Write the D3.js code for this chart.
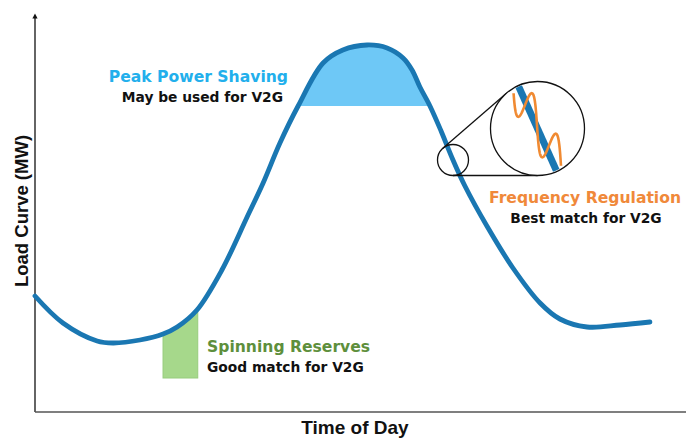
<!DOCTYPE html>
<html>
<head>
<meta charset="utf-8">
<script src="https://cdn.jsdelivr.net/npm/d3@7"></script>
<style>
  body { margin: 0; background: #fff; }
  svg { display: block; }
  text { font-weight: 700; }
  .note { font-family: "DejaVu Sans", "Open Sans", sans-serif; }
  .axis-title { font-family: "Liberation Sans", Arial, sans-serif; }
</style>
</head>
<body>
<div id="chart"></div>
<script>
// load curve over one day (hours, arbitrary MW units)
const hours = [0, 1.03, 2.29, 2.88, 3.87, 4.72, 5.24, 5.97, 6.89, 7.82, 8.41, 9.03, 9.70, 10.62,
  11.35, 12.24, 12.98, 13.57, 13.9, 14.19, 14.56, 14.97, 15.41, 15.85, 16.66, 17.62, 18.62,
  19.35, 20.35, 21.57, 22.67];
const load = [29, 22.25, 17.75, 17.25, 18, 19.5, 21.25, 25.5, 35.5, 48.75, 57.25, 67.25, 76.5, 87.25,
  90.5, 91.75, 91, 88.5, 85.5, 81.25, 76.5, 70.25, 63, 56.5, 46.5, 36, 27.25,
  23.25, 21.25, 21.75, 22.5];

// annotated zones
const peakShaveLevel = 76.5;          // load above this is shaved
const reserveHours = [4.72, 6.0];     // spinning reserves window
const reserveFloor = 8.5;
const regulationHour = 15.41;         // magnified point

const labels = {
  peak: ["Peak Power Shaving", "May be used for V2G"],
  reserve: ["Spinning Reserves", "Good match for V2G"],
  regulation: ["Frequency Regulation", "Best match for V2G"]
};

const width = 686, height = 438;
const margin = {top: 12, right: 0, bottom: 26, left: 35};

const svg = d3.select("#chart").append("svg")
  .attr("width", width)
  .attr("height", height);

const x = d3.scaleLinear().domain([0, 24]).range([margin.left, width - margin.right]);
const y = d3.scaleLinear().domain([0, 100]).range([height - margin.bottom, margin.top]);

const curve = d3.curveCatmullRom.alpha(0.5);
const pts = hours.map((h, i) => [h, load[i]]);

const line = d3.line().x(d => x(d[0])).y(d => y(d[1])).curve(curve);
const under = d3.area().x(d => x(d[0])).y0(y(0)).y1(d => y(d[1])).curve(curve);

const defs = svg.append("defs");
defs.append("clipPath").attr("id", "under")
  .append("path").attr("d", under(pts));

// fills
svg.append("rect")
  .attr("x", x(reserveHours[0]))
  .attr("y", 0)
  .attr("width", x(reserveHours[1]) - x(reserveHours[0]))
  .attr("height", y(reserveFloor))
  .attr("fill", "#a6d88b")
  .attr("stroke", "#97cc7c")
  .attr("clip-path", "url(#under)");

svg.append("rect")
  .attr("x", margin.left)
  .attr("y", 0)
  .attr("width", width)
  .attr("height", y(peakShaveLevel))
  .attr("fill", "#6ec8f6")
  .attr("clip-path", "url(#under)");

// axes with arrows
defs.append("marker")
  .attr("id", "arrow")
  .attr("viewBox", "0 0 10 10")
  .attr("refX", 5).attr("refY", 5)
  .attr("markerWidth", 4).attr("markerHeight", 5)
  .attr("orient", "auto")
  .append("path").attr("d", "M0,0 L10,5 L0,10 z").attr("fill", "#111");

svg.append("line")
  .attr("x1", x(0)).attr("x2", x(0))
  .attr("y1", y(0)).attr("y2", 16)
  .attr("stroke", "#111").attr("stroke-width", 1.3)
  .attr("marker-end", "url(#arrow)");

svg.append("line")
  .attr("x1", x(0)).attr("x2", width + 4)
  .attr("y1", y(0)).attr("y2", y(0))
  .attr("stroke", "#555").attr("stroke-width", 1.3)
  .attr("marker-end", "url(#arrow)");

// load curve
svg.append("path")
  .attr("d", line(pts))
  .attr("fill", "none")
  .attr("stroke", "#1a77b2")
  .attr("stroke-width", 4.8)
  .attr("stroke-linecap", "round");

// magnifier
const c1 = {x: x(regulationHour), y: y(63), r: 15.5};
const c2 = {x: c1.x + 84.5, y: c1.y - 31.5, r: 47};
const dx = c2.x - c1.x, dy = c2.y - c1.y, dist = Math.hypot(dx, dy);
const base = Math.atan2(dy, dx), beta = Math.acos((c1.r - c2.r) / dist);
[base + beta, base - beta].forEach(a => {
  svg.append("line")
    .attr("x1", c1.x + c1.r * Math.cos(a)).attr("y1", c1.y + c1.r * Math.sin(a))
    .attr("x2", c2.x + c2.r * Math.cos(a)).attr("y2", c2.y + c2.r * Math.sin(a))
    .attr("stroke", "#111").attr("stroke-width", 1.3);
});

svg.append("circle")
  .attr("cx", c1.x).attr("cy", c1.y).attr("r", c1.r)
  .attr("fill", "none").attr("stroke", "#111").attr("stroke-width", 1.3);

defs.append("clipPath").attr("id", "lens")
  .append("circle").attr("cx", c2.x).attr("cy", c2.y).attr("r", c2.r - 1);

svg.append("circle")
  .attr("cx", c2.x).attr("cy", c2.y).attr("r", c2.r)
  .attr("fill", "#fff").attr("stroke", "#111").attr("stroke-width", 1.3);

const lens = svg.append("g").attr("clip-path", "url(#lens)");
// magnified piece of the curve
lens.append("line")
  .attr("x1", c2.x - 26).attr("y1", c2.y - 58)
  .attr("x2", c2.x + 26).attr("y2", c2.y + 58)
  .attr("stroke", "#1a77b2").attr("stroke-width", 7);

// regulation signal riding on it
const wave = d3.range(-0.45, 1.501, 0.01).map(s => [
  c2.x - 12.5 + 24 * s + 2 * Math.sin(2 * Math.PI * s),
  c2.y - 23.5 + 40.5 * s - 21 * Math.sin(2 * Math.PI * s)
]);
lens.append("path")
  .attr("d", d3.line()(wave))
  .attr("fill", "none")
  .attr("stroke", "#f08a32")
  .attr("stroke-width", 2.6);

// annotations
function note(px, py, lines, color, anchor, dx2) {
  const g = svg.append("g").attr("class", "note").attr("text-anchor", anchor);
  g.append("text").attr("x", px).attr("y", py)
    .attr("fill", color).style("font-size", "15.6px").text(lines[0]);
  g.append("text").attr("x", px + dx2).attr("y", py + 20)
    .attr("fill", "#111").style("font-size", "13.8px").text(lines[1]);
}
note(288, 82, labels.peak, "#22afec", "end", -5);
note(207, 352, labels.reserve, "#5e8f3c", "start", 0);
note(585, 203, labels.regulation, "#f0893a", "middle", 1);

svg.append("text")
  .attr("class", "axis-title")
  .attr("x", 355).attr("y", 434)
  .attr("text-anchor", "middle")
  .style("font-size", "19px")
  .attr("fill", "#111")
  .text("Time of Day");

svg.append("text")
  .attr("class", "axis-title")
  .attr("transform", "translate(28,211) rotate(-90)")
  .attr("text-anchor", "middle")
  .style("font-size", "18.5px")
  .attr("fill", "#111")
  .text("Load Curve (MW)");
</script>
</body>
</html>
